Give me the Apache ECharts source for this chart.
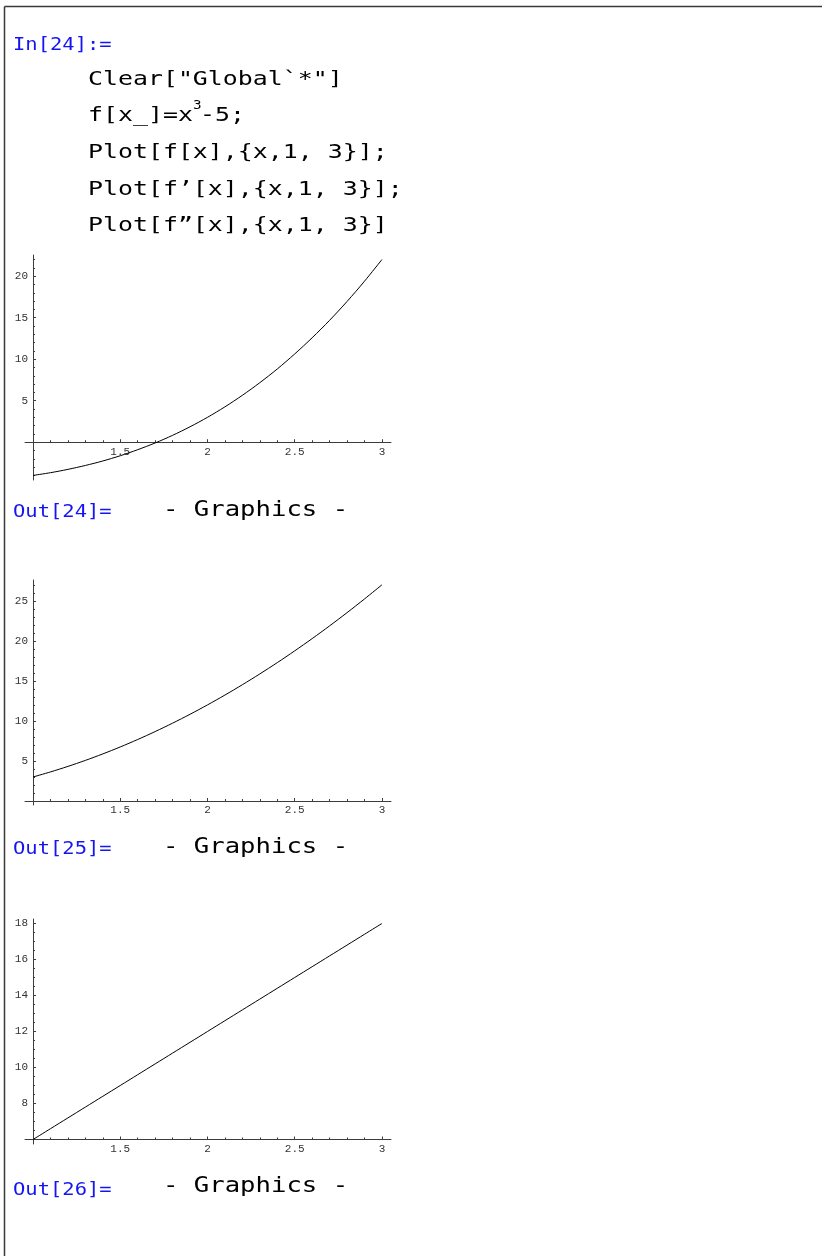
<!DOCTYPE html>
<html><head><meta charset="utf-8">
<script src="https://cdn.jsdelivr.net/npm/echarts@6/dist/echarts.min.js"></script>
<style>html,body{margin:0;padding:0;background:#fff}#c{width:822px;height:1256px}</style>
</head><body><div id="c"></div>
<script>
// ---- data ----
const xValues  = [1.0,1.1,1.2,1.3,1.4,1.5,1.6,1.7,1.8,1.9,2.0,2.1,2.2,2.3,2.4,2.5,2.6,2.7,2.8,2.9,3.0];
const fValues  = [-4,-3.67,-3.27,-2.80,-2.26,-1.63,-0.90,-0.09,0.83,1.86,3,4.26,5.65,7.17,8.82,10.63,12.58,14.68,16.95,19.39,22];
const f1Values = [3,3.63,4.32,5.07,5.88,6.75,7.68,8.67,9.72,10.83,12,13.23,14.52,15.87,17.28,18.75,20.28,21.87,23.52,25.23,27];
const f2Values = [6,6.6,7.2,7.8,8.4,9,9.6,10.2,10.8,11.4,12,12.6,13.2,13.8,14.4,15,15.6,16.2,16.8,17.4,18];

const xTickLabels = [1.5, 2, 2.5, 3];
const xMajorTicks = [1, 1.5, 2, 2.5, 3];
const xMinorTicks = [1.1,1.2,1.3,1.4,1.6,1.7,1.8,1.9,2.1,2.2,2.3,2.4,2.6,2.7,2.8,2.9];

const yTickLabels1 = [5, 10, 15, 20];
const yMinorTicks1 = [-4,-3,-2,-1,1,2,3,4,6,7,8,9,11,12,13,14,16,17,18,19,21,22];
const yTickLabels2 = [5, 10, 15, 20, 25];
const yMinorTicks2 = [1,2,3,4,6,7,8,9,11,12,13,14,16,17,18,19,21,22,23,24,26,27];
const yTickLabels3 = [8, 10, 12, 14, 16, 18];
const yMinorTicks3 = [6.5,7,7.5,8.5,9,9.5,10.5,11,11.5,12.5,13,13.5,14.5,15,15.5,16.5,17,17.5];

const xRange = [0.954, 3.052];
const yRanges = [[-4.55, 22.55], [-0.5, 27.6], [5.75, 18.25]];
const axisCrossX = 1;
const axisCrossY = [0, 0, 6];

const inLabel = 'In[24]:=';
const codeLines = ['Clear["Global`*"]', 'f[x_]=x', 'Plot[f[x],{x,1, 3}];', "Plot[f’[x],{x,1, 3}];", 'Plot[f”[x],{x,1, 3}]'];
const outLabels = ['Out[24]=', 'Out[25]=', 'Out[26]='];
const outText = '- Graphics -';

// ---- layout ----
const gridTops = [255, 580, 919];
const gridLeft = 25, gridW = 366, gridH = 225;
const seriesValues = [fValues, f1Values, f2Values];
const yLabelSets = [yTickLabels1, yTickLabels2, yTickLabels3];
const yMinorSets = [yMinorTicks1, yMinorTicks2, yMinorTicks3];

const tickFont = {fontFamily: 'Liberation Mono', fontSize: 11, color: '#333'};
const axisColor = '#3c3c3c';

const grids = [], xAxes = [], yAxes = [], series = [];
for (let i = 0; i < 3; i++) {
  const [ymin, ymax] = yRanges[i];
  grids.push({left: gridLeft, top: gridTops[i], width: gridW, height: gridH, containLabel: false, outerBoundsMode: 'none'});
  const xOff = -((axisCrossY[i] - ymin) / (ymax - ymin)) * gridH;
  const yOff = -((axisCrossX - xRange[0]) / (xRange[1] - xRange[0])) * gridW;
  xAxes.push({type: 'value', gridIndex: i, min: xRange[0], max: xRange[1], position: 'bottom', offset: xOff,
    axisLine: {show: true, onZero: false, lineStyle: {color: axisColor, width: 1}},
    axisTick: {show: true, inside: true, length: 3, customValues: xMajorTicks, lineStyle: {color: axisColor}},
    axisLabel: {show: true, customValues: xTickLabels, margin: 4, ...tickFont, formatter: v => String(v)},
    splitLine: {show: false}});
  xAxes.push({type: 'value', gridIndex: i, min: xRange[0], max: xRange[1], position: 'bottom', offset: xOff,
    axisLine: {show: false, onZero: false},
    axisTick: {show: true, inside: true, length: 2, customValues: xMinorTicks, lineStyle: {color: axisColor}},
    axisLabel: {show: false}, splitLine: {show: false}});
  yAxes.push({type: 'value', gridIndex: i, min: ymin, max: ymax, position: 'left', offset: yOff,
    axisLine: {show: true, onZero: false, lineStyle: {color: axisColor, width: 1}},
    axisTick: {show: true, inside: true, length: 3, customValues: yLabelSets[i], lineStyle: {color: axisColor}},
    axisLabel: {show: true, customValues: yLabelSets[i], margin: 5, ...tickFont, formatter: v => String(v)},
    splitLine: {show: false}});
  yAxes.push({type: 'value', gridIndex: i, min: ymin, max: ymax, position: 'left', offset: yOff,
    axisLine: {show: false, onZero: false},
    axisTick: {show: true, inside: true, length: 2, customValues: yMinorSets[i], lineStyle: {color: axisColor}},
    axisLabel: {show: false}, splitLine: {show: false}});
  series.push({type: 'line', xAxisIndex: 2 * i, yAxisIndex: 2 * i, showSymbol: false, smooth: 0.3,
    data: xValues.map((x, k) => [x, seriesValues[i][k]]),
    lineStyle: {color: '#000', width: 1}, silent: true, animation: false});
}

const blue = '#1515f2';
const mono = 'DejaVu Sans Mono';
function txt(x, y, text, size, color, sx) {
  return {type: 'text', x: x, y: y, scaleX: sx || 1, silent: true,
    style: {text: text, fontFamily: mono, fontSize: size, fill: color, align: 'left', verticalAlign: 'middle'}};
}
const graphics = [
  {type: 'line', silent: true, shape: {x1: 4.5, y1: 6.5, x2: 822, y2: 6.5}, style: {stroke: '#3a3a3a', lineWidth: 1.5}},
  {type: 'line', silent: true, shape: {x1: 4.5, y1: 6.5, x2: 4.5, y2: 1256}, style: {stroke: '#3a3a3a', lineWidth: 1.5}},
  txt(13, 45.5, inLabel, 17.5, blue, 1.17)
];
const codeY = [79.5, 116.2, 152.9, 189.5, 226.2];
const codeSX = 1.27;
codeLines.forEach((t, k) => graphics.push(txt(88, codeY[k], t, 19.6, '#000', codeSX)));
graphics.push(txt(193, 106, '3', 13, '#000', 1.1));
graphics.push(txt(200, codeY[1], '-5;', 19.6, '#000', codeSX));
const outY = [512.5, 849.5, 1190];
const gY = [511, 847.5, 1187];
outLabels.forEach((t, k) => {
  graphics.push(txt(13, outY[k], t, 17.5, blue, 1.17));
  graphics.push(txt(163, gY[k], outText, 21, '#000', 1.22));
});

const chart = echarts.init(document.getElementById('c'), null, {renderer: 'canvas'});
chart.setOption({
  backgroundColor: '#fff', animation: false,
  grid: grids, xAxis: xAxes, yAxis: yAxes, series: series, graphic: graphics
});
</script></body></html>
